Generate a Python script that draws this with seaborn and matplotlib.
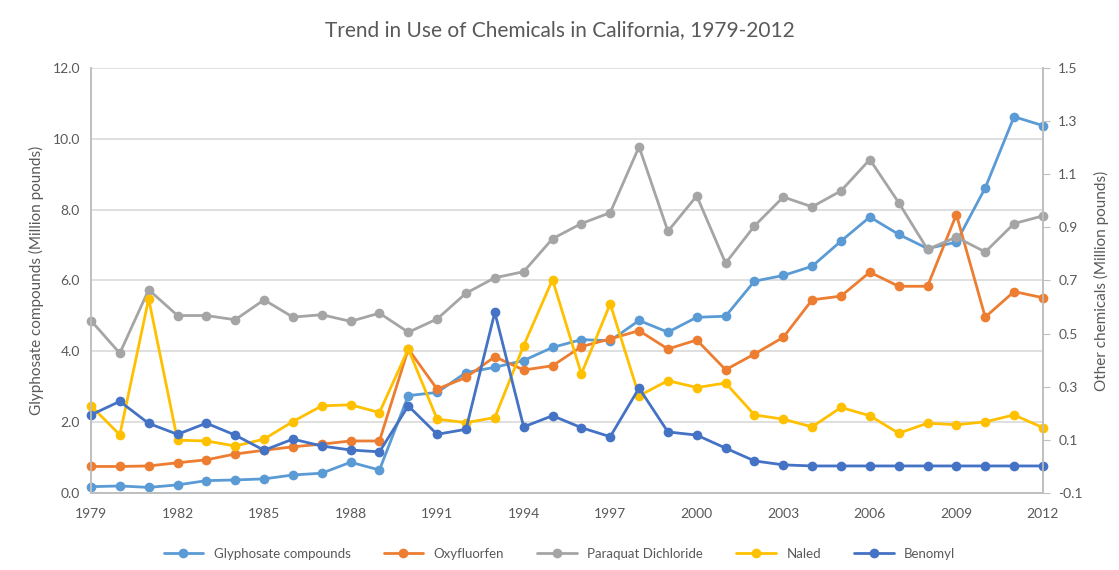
import numpy as np
import pandas as pd
import seaborn as sns
import matplotlib.pyplot as plt

years = list(range(1979, 2013))

# left axis (Million pounds)
glyphosate = [0.18, 0.20, 0.16, 0.23, 0.35, 0.37, 0.40, 0.51, 0.56, 0.87,
              0.65, 2.75, 2.84, 3.40, 3.55, 3.74, 4.11, 4.33, 4.30, 4.87,
              4.54, 4.96, 4.99, 5.98, 6.14, 6.40, 7.11, 7.79, 7.30, 6.90,
              7.08, 8.61, 10.62, 10.37]

# right axis (Million pounds)
oxyfluorfen = [0.00, 0.00, 0.002, 0.014, 0.025, 0.047, 0.061, 0.074, 0.084, 0.096,
               0.096, 0.442, 0.291, 0.335, 0.413, 0.363, 0.379, 0.451, 0.480, 0.511,
               0.442, 0.476, 0.364, 0.423, 0.486, 0.627, 0.641, 0.731, 0.678, 0.678,
               0.948, 0.562, 0.658, 0.635]
paraquat = [0.549, 0.426, 0.665, 0.568, 0.568, 0.552, 0.627, 0.562, 0.571, 0.546,
            0.577, 0.505, 0.555, 0.652, 0.710, 0.733, 0.857, 0.914, 0.955, 1.203,
            0.885, 1.018, 0.765, 0.905, 1.014, 0.977, 1.037, 1.155, 0.993, 0.817,
            0.863, 0.807, 0.914, 0.943]
naled = [0.228, 0.119, 0.631, 0.099, 0.096, 0.077, 0.103, 0.169, 0.228, 0.232,
         0.203, 0.442, 0.178, 0.165, 0.184, 0.455, 0.703, 0.348, 0.612, 0.266,
         0.323, 0.297, 0.314, 0.194, 0.178, 0.149, 0.222, 0.191, 0.125, 0.163,
         0.157, 0.168, 0.194, 0.146]
benomyl = [0.194, 0.245, 0.162, 0.121, 0.163, 0.118, 0.061, 0.103, 0.077, 0.062,
           0.055, 0.228, 0.121, 0.140, 0.580, 0.149, 0.191, 0.146, 0.112, 0.295,
           0.130, 0.118, 0.069, 0.021, 0.006, 0.002, 0.002, 0.002, 0.002, 0.002,
           0.002, 0.002, 0.002, 0.002]

names = ["Glyphosate compounds", "Oxyfluorfen", "Paraquat Dichloride", "Naled", "Benomyl"]
colors = ["#5B9BD5", "#ED7D31", "#A5A5A5", "#FFC000", "#4472C4"]
other = [oxyfluorfen, paraquat, naled, benomyl]

sns.set_style("white")
plt.rcParams['font.family'] = ['Lato', 'DejaVu Sans']
txt = "#595959"
axc = "#BFBFBF"

fig = plt.figure(figsize=(11.19, 5.70), dpi=100)
ax = fig.add_axes([0.0813, 0.135, 0.8507, 0.746])
ax2 = ax.twinx()

sns.lineplot(x=years, y=glyphosate, ax=ax, color=colors[0], marker='o', clip_on=False,
             markersize=7, linewidth=2, markeredgewidth=0, label=names[0], legend=False)
for vals, name, c in zip(other, names[1:], colors[1:]):
    sns.lineplot(x=years, y=vals, ax=ax2, color=c, marker='o', clip_on=False,
                 markersize=7, linewidth=2, markeredgewidth=0, label=name, legend=False)

ax.set_xlim(1979, 2012)
ax.set_ylim(0, 12)
ax2.set_ylim(-0.1, 1.5)
ax.set_xticks(list(range(1979, 2013, 3)))
ax.set_yticks(np.arange(0, 12.1, 2))
ax.set_yticklabels([f"{v:.1f}" for v in np.arange(0, 12.1, 2)])
r_ticks = np.arange(-0.1, 1.51, 0.2)
ax2.set_yticks(r_ticks)
ax2.set_yticklabels([f"{v:.1f}" for v in r_ticks])

ax.grid(axis='y', color="#D9D9D9", linewidth=1.2)
ax.set_axisbelow(True)
ax2.grid(False)

for a in (ax, ax2):
    for s in a.spines.values():
        s.set_color(axc)
        s.set_linewidth(1.2)
    a.spines['top'].set_visible(False)
    a.tick_params(colors=txt, labelsize=10)
ax.tick_params(axis='y', length=0, pad=8)
ax.tick_params(axis='x', length=0, pad=11)
ax2.tick_params(axis='y', length=5, color=axc, pad=6)

ax.set_ylabel("Glyphosate compounds (Million pounds)", color=txt, fontsize=11, labelpad=6)
ax2.set_ylabel("Other chemicals (Million pounds)", color=txt, fontsize=11, labelpad=8)
fig.suptitle("Trend in Use of Chemicals in California, 1979-2012", color=txt,
             fontsize=15, y=0.965)

h1, l1 = ax.get_legend_handles_labels()
h2, l2 = ax2.get_legend_handles_labels()
leg = fig.legend(h1 + h2, l1 + l2, loc='center', bbox_to_anchor=(0.5, 0.028), ncol=5,
                 frameon=False, fontsize=9.5, handlelength=3, columnspacing=2.5)
for t in leg.get_texts():
    t.set_color(txt)

fig.savefig("out.png", dpi=100)
